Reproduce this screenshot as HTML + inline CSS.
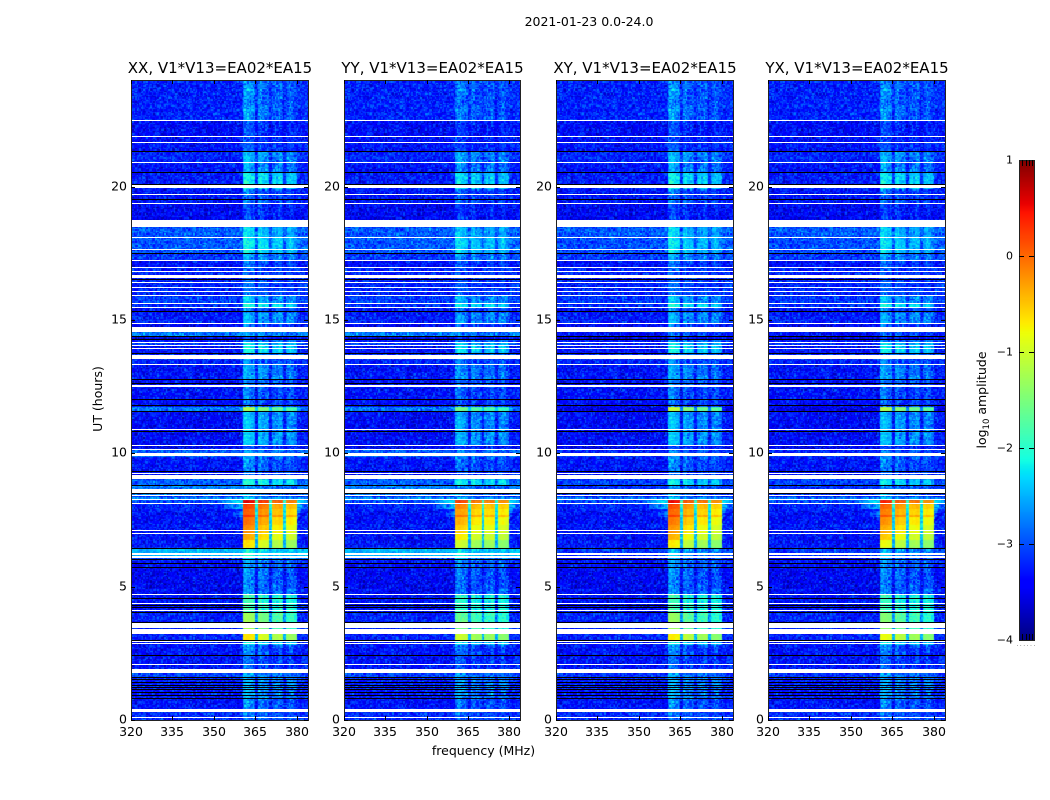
<!DOCTYPE html>
<html lang="en">
<head>
<meta charset="utf-8">
<title>2021-01-23 0.0-24.0</title>
<style>
html,body{margin:0;padding:0;background:#fff;}
#figure{position:relative;width:1050px;height:800px;overflow:hidden;background:#fff;}
canvas{position:absolute;display:block;}
#overlay{position:absolute;left:0;top:0;}
text{font-family:"DejaVu Sans","Liberation Sans",sans-serif;fill:#000;}
</style>
</head>
<body>
<div id="figure">
<canvas id="heat0"></canvas>
<canvas id="heat1"></canvas>
<canvas id="heat2"></canvas>
<canvas id="heat3"></canvas>
<canvas id="cbar"></canvas>
<svg id="overlay" width="1050" height="800" viewBox="0 0 1050 800" xmlns="http://www.w3.org/2000/svg">
<text x="589" y="26" font-size="12.5" text-anchor="middle">2021-01-23 0.0-24.0</text>
<text x="483.5" y="755" font-size="12.5" text-anchor="middle">frequency (MHz)</text>
<text transform="translate(102,399) rotate(-90)" font-size="12.5" text-anchor="middle">UT (hours)</text>
<text transform="translate(986,400) rotate(-90)" font-size="12.5" text-anchor="middle">log<tspan font-size="8.5" dy="3">10</tspan><tspan dy="-3"> amplitude</tspan></text>
<text x="1026.5" y="646" font-size="7" text-anchor="middle" style="fill:#888;letter-spacing:1.2px">......</text>
</svg>
</div>
<script>
// ---- chart data ----
const panelTitles = ["XX, V1*V13=EA02*EA15","YY, V1*V13=EA02*EA15","XY, V1*V13=EA02*EA15","YX, V1*V13=EA02*EA15"];
const xTicks = [320,335,350,365,380];
const yTicks = [0,5,10,15,20];
const cbarTicks = [-4,-3,-2,-1,0,1];

// time bands: upper edge in UT hours, top to bottom
const bandStartUT = [24,22.46,21.64,21.30,20.89,20.51,19.91,19.35,18.49,18.08,17.51,17.21,16.99,16.54,15.90,15.60,15.45,15.26,14.85,14.55,14.36,14.25,14.14,14.03,13.73,13.50,13.31,12.75,12.53,12.00,11.74,11.59,10.84,10.28,10.16,9.86,9.34,9.04,8.78,8.46,8.36,8.25,8.10,7.875,7.69,7.58,7.31,6.98,6.75,6.43,6.08,6.00,5.70,4.69,4.01,3.23,2.96,2.81,2.40,1.76,1.61,0.79,0.30];
// log10 amplitude of the noise floor (parallel hands XX/YY, cross hands XY/YX)
const bgParallel = [-3.25,-3.4,-3.35,-3.25,-3.35,-3.3,-3.35,-3.45,-2.95,-2.95,-3.15,-3.35,-3.25,-3.25,-3.1,-3.2,-3.35,-3.3,-3.45,-2.75,-3.55,-3.35,-3.05,-3.35,-3.15,-3.25,-3.35,-3.4,-3.35,-3.4,-2.8,-3.4,-3.4,-3.45,-2.95,-3.35,-3.35,-2.95,-2.75,-3.15,-2.7,-3.05,-3.25,-3.35,-3.35,-3.35,-3.35,-3.35,-3.35,-2.5,-3.05,-3.35,-3.45,-3.35,-3.25,-3.25,-3.35,-3.35,-3.35,-3.05,-3.3,-3.35,-3.2];
const bgCross = [-3.25,-3.4,-3.35,-3.25,-3.35,-3.3,-3.35,-3.45,-2.95,-3.0,-3.15,-3.35,-3.25,-3.25,-3.15,-3.2,-3.35,-3.3,-3.45,-3.35,-3.55,-3.35,-3.15,-3.35,-3.15,-3.25,-3.35,-3.4,-3.35,-3.4,-3.55,-3.4,-3.4,-3.45,-3.25,-3.35,-3.35,-3.1,-3.15,-3.25,-2.8,-3.05,-3.25,-3.35,-3.35,-3.35,-3.35,-3.35,-3.35,-3.15,-3.45,-3.35,-3.45,-3.35,-3.25,-3.25,-3.35,-3.35,-3.35,-3.15,-3.3,-3.35,-3.2];
// log10 amplitude inside the four bright spectral windows
const sigParallel = [-2.85,-3.15,-3.05,-2.65,-2.75,-2.3,-2.95,-3.2,-2.45,-2.35,-2.7,-3.0,-3.0,-3.0,-2.6,-2.2,-2.9,-2.65,-3.05,-2.7,-3.25,-2.8,-2.4,-2.3,-2.9,-2.9,-2.7,-2.9,-2.95,-3.05,-1.5,-2.6,-2.55,-3.15,-2.8,-2.85,-3.0,-2.2,-2.8,-2.9,-2.6,0.2,-0.15,-0.3,-0.05,-0.4,-0.55,-0.7,-1.0,-2.3,-2.6,-2.8,-2.85,-2.0,-1.6,-1.0,-2.3,-2.95,-3.05,-2.75,-2.7,-2.9,-2.9];
const sigCross = [-2.85,-3.15,-3.05,-2.65,-2.75,-2.3,-2.95,-3.2,-2.45,-2.4,-2.7,-3.0,-3.0,-3.0,-2.6,-2.2,-2.9,-2.65,-3.05,-2.9,-3.25,-2.8,-2.4,-2.3,-2.9,-2.9,-2.7,-2.9,-2.95,-3.05,-1.3,-2.6,-2.55,-3.15,-2.9,-2.85,-3.0,-2.3,-2.8,-2.9,-2.6,0.2,-0.15,-0.3,-0.05,-0.4,-0.55,-0.7,-1.0,-2.6,-2.8,-2.8,-2.85,-2.0,-1.6,-1.0,-2.3,-2.95,-3.05,-2.75,-2.7,-2.9,-2.9];
// skirt of leaked power beside the windows (0 = none)
const skirtLevel = [0,0,0,0,0,0,0,0,0,0,0,0,0,0,0,0,0,0,0,0,0,0,0,0,0,0,0,0,0,0,0,0,0,0,0,0,0,0,0,0,0,-2.1,-2.4,-2.9,-2.9,-3.1,0,0,0,0,0,0,0,0,0,0,0,0,0,0,0,0,0];

// spectral windows (MHz) and per-panel level offsets
const windowStartMHz = [360.7,365.9,371.1,376.0];
const windowEndMHz = [364.8,370.2,375.1,380.0];
const windowOffsetXX = [0.12,0.02,-0.08,-0.14];
const windowOffsetYY = [-0.02,-0.12,-0.14,-0.18];
const windowOffsetXY = [0.1,-0.05,-0.12,-0.18];
const windowOffsetYX = [0.05,-0.05,-0.12,-0.18];
// level ripple across each window, left to right
const windowRippleA = [0.02,0.1,0.14,0.1,0.04,-0.04,-0.02,-0.1];
const windowRippleB = [0.06,0.14,0.08,-0.06,-0.08,0,-0.04,-0.1];
const windowRippleC = [-0.08,0,0.06,-0.04,0.04,0.12,0.08,-0.08];
const windowRippleD = [-0.04,0.04,0.12,0.14,0.08,0.02,-0.06,-0.12];
const windowRipples = [windowRippleA,windowRippleB,windowRippleC,windowRippleD];

// flagged (white) time ranges, UT hours
const gapStartUT = [22.5,21.9,21.675,20.925,20.044,19.725,19.388,18.75,18.113,17.663,17.25,17.006,16.838,16.706,16.425,16.256,16.088,15.938,15.638,15.488,14.888,14.738,14.175,14.063,13.95,13.688,13.35,12.563,10.913,10.313,10.163,9.994,9.263,9.188,8.663,8.419,8.288,8.138,7.125,7.013,6.263,6.15,4.725,4.369,4.125,3.638,3.431,2.963,2.869,2.1,1.931,0.424,0.113];
const gapEndUT = [22.463,21.863,21.638,20.888,19.913,19.688,19.35,18.488,18.075,17.625,17.213,16.969,16.8,16.575,16.388,16.219,16.05,15.9,15.6,15.45,14.85,14.55,14.138,14.025,13.913,13.538,13.313,12.506,10.875,10.275,10.125,9.881,9.225,9.038,8.513,8.381,8.25,8.1,7.088,6.975,6.188,6.075,4.688,4.331,4.088,3.45,3.225,2.925,2.831,2.063,1.781,0.3,0.075];
// dropout (black) time ranges, UT hours
const darkStartUT = [21.338,20.55,20.1,19.538,17.531,16.556,15.319,14.4,14.269,13.781,12.769,12.638,12.019,11.794,11.606,10.856,9.356,8.813,8.494,6.45,6.038,5.888,5.738,4.575,4.313,4.238,4.05,3.675,3.0,2.438,1.613,1.519,1.425,1.331,1.238,1.144,1.05,0.938,0.825];
const darkEndUT = [21.3,20.513,20.025,19.5,17.494,16.519,15.263,14.363,14.231,13.744,12.731,12.6,11.981,11.749,11.576,10.826,9.326,8.775,8.456,6.413,6,5.858,5.7,4.541,4.283,4.208,4.013,3.638,2.963,2.4,1.575,1.489,1.395,1.301,1.208,1.114,1.02,0.908,0.788];

// per-cell amplitude scatter, read as texture of the noise floor
const speckle = [0.3,-0.7,0.9,-0.2,0.5,-0.9,0.1,0.7,-0.4,-0.8,0.6,0.2,-0.5,1,-0.1,-0.6,0.4,0.8,-0.3,-0.95,0.15,0.65,-0.75,0.35,-0.15,0.85,-0.55,0.05,-0.85,0.55,0.25,-0.35,0.95,-0.65,-0.05,0.45,-1,0.75,0.2,-0.45,0.6,-0.25,-0.7,0.9,0.1,-0.9,0.35,-0.1,0.7,-0.6,0.5,-0.3,0.8,-0.8,0,0.4,-0.5,0.95,-0.2,-0.75,0.3,0.65,-0.95,0.15,-0.4,0.85,-0.15,0.55,-0.65,0.25,0.75,-0.85,0.05,-0.35,0.45,1,-0.55,-0.05,0.6,-1,0.2,0.9,-0.7,0.35,-0.25,0.7,-0.45,0.1,0.5,-0.9,0.8,-0.1,-0.6,0.4,-0.3,0.95,-0.8,0.15,0.65,-0.5,0.25];

const panelBgArrays = [bgParallel,bgParallel,bgCross,bgCross];
const panelSigArrays = [sigParallel,sigParallel,sigCross,sigCross];
const panelOffsets = [windowOffsetXX,windowOffsetYY,windowOffsetXY,windowOffsetYX];
const panelNames = ["xx","yy","xy","yx"];

// ---- layout ----
const panelLeft = [131,344,556,768];
const panelRight = [308,520,733,945];
const plotTop = 80, plotBottom = 720;
const freqMin = 320, freqMax = 384, utMin = 0, utMax = 24;
const cbarLeft = 1019, cbarRight = 1034, cbarTop = 160, cbarBottom = 640;
const vMin = -4, vMax = 1;
const nChannels = 128, nRows = 480;

function xScale(p, mhz){ return panelLeft[p] + (mhz - freqMin) / (freqMax - freqMin) * (panelRight[p] - panelLeft[p]); }
function yScale(ut){ return plotBottom - (ut - utMin) / (utMax - utMin) * (plotBottom - plotTop); }
function cbarScale(v){ return cbarBottom - (v - vMin) / (vMax - vMin) * (cbarBottom - cbarTop); }

function seg(x, x0, y0, x1, y1){ return y0 + (y1 - y0) * Math.max(0, Math.min(1, (x - x0) / (x1 - x0))); }
function jet(v){
  const t = Math.max(0, Math.min(1, (v - vMin) / (vMax - vMin)));
  const r = t < 0.35 ? 0 : t < 0.66 ? seg(t,0.35,0,0.66,1) : t < 0.89 ? 1 : seg(t,0.89,1,1,0.5);
  const g = t < 0.125 ? 0 : t < 0.375 ? seg(t,0.125,0,0.375,1) : t < 0.64 ? 1 : seg(t,0.64,1,0.91,0);
  const b = t < 0.11 ? seg(t,0,0.5,0.11,1) : t < 0.34 ? 1 : seg(t,0.34,1,0.65,0);
  return 'rgb(' + Math.round(r*255) + ',' + Math.round(g*255) + ',' + Math.round(b*255) + ')';
}

function bandIndex(ut){
  let idx = 0;
  for (let i = 0; i < bandStartUT.length; i++) { if (bandStartUT[i] >= ut) idx = i; else break; }
  return idx;
}
function windowIndex(mhz){
  for (let w = 0; w < windowStartMHz.length; w++) { if (mhz >= windowStartMHz[w] && mhz <= windowEndMHz[w]) return w; }
  return -1;
}
function noiseAt(c, r){
  const a = speckle[(c*37 + r*61 + (c*r) % 23) % speckle.length];
  const b = speckle[(c*c*3 + r*r*7 + c*r) % speckle.length];
  return (a + b) / 1.3;
}
function cellValue(p, mhz, ut, c, r){
  const i = bandIndex(ut);
  const bg = panelBgArrays[p][i];
  const sig = panelSigArrays[p][i];
  const skirt = skirtLevel[i];
  const w = windowIndex(mhz);
  const first = windowStartMHz[0], last = windowEndMHz[windowEndMHz.length - 1];
  const bright = sig > -1.7;
  let v;
  if (w >= 0) {
    const pos = (mhz - windowStartMHz[w]) / (windowEndMHz[w] - windowStartMHz[w]);
    const rip = windowRipples[w][Math.min(7, Math.floor(pos * 8))];
    v = sig + panelOffsets[p][w] * (bright ? 2.5 : 1) + rip * (bright ? 0.5 : 1);
  } else if (mhz > first && mhz < last) {
    v = bg + (sig - bg) * (bright ? 0.35 : 0.12);
  } else {
    v = bg;
    if (mhz >= last) v = bg + 0.08;
    if (skirt !== 0) {
      const dist = mhz < first ? first - mhz : (mhz - last) * 2;
      v = Math.max(v, skirt - dist * 0.09);
    }
  }
  const amp = v > -1.6 ? 0.05 : v > -2.6 ? 0.22 : 0.36;
  return v + noiseAt(c, r) * amp;
}

function drawHeatmap(p){
  const cv = document.getElementById('heat' + p);
  const w = panelRight[p] - panelLeft[p], h = plotBottom - plotTop;
  cv.width = w; cv.height = h;
  cv.style.left = panelLeft[p] + 'px';
  cv.style.top = plotTop + 'px';
  const ctx = cv.getContext('2d');
  for (let r = 0; r < nRows; r++) {
    const ut = utMax - (r + 0.5) * (utMax - utMin) / nRows;
    const y0 = Math.round(r * h / nRows), y1 = Math.round((r + 1) * h / nRows);
    for (let c = 0; c < nChannels; c++) {
      const mhz = freqMin + (c + 0.5) * (freqMax - freqMin) / nChannels;
      const x0 = Math.round(c * w / nChannels), x1 = Math.round((c + 1) * w / nChannels);
      ctx.fillStyle = jet(cellValue(p, mhz, ut, c, r));
      ctx.fillRect(x0, y0, x1 - x0, y1 - y0);
    }
  }
}

function drawColorbar(){
  const cv = document.getElementById('cbar');
  const w = cbarRight - cbarLeft, h = cbarBottom - cbarTop;
  cv.width = w; cv.height = h;
  cv.style.left = cbarLeft + 'px';
  cv.style.top = cbarTop + 'px';
  const ctx = cv.getContext('2d');
  for (let y = 0; y < h; y++) {
    ctx.fillStyle = jet(vMax - (y + 0.5) / h * (vMax - vMin));
    ctx.fillRect(0, y, w, 1);
  }
}

const SVGNS = 'http://www.w3.org/2000/svg';
const overlay = document.getElementById('overlay');
function mk(tag, attrs){
  const el = document.createElementNS(SVGNS, tag);
  for (const k in attrs) el.setAttribute(k, attrs[k]);
  overlay.appendChild(el);
  return el;
}

function drawPanelOverlay(p){
  const L = panelLeft[p], R = panelRight[p];
  for (let i = 0; i < darkStartUT.length; i++) {
    const y0 = yScale(darkStartUT[i]), y1 = yScale(darkEndUT[i]);
    const el = mk('rect', {x: L, y: Math.round(y0), width: R - L, height: Math.max(1, Math.round(y1 - y0)), fill: '#000'});
    
    
  }
  for (let i = 0; i < gapStartUT.length; i++) {
    const y0 = yScale(gapStartUT[i]), y1 = yScale(gapEndUT[i]);
    const el = mk('rect', {x: L + 1, y: Math.round(y0), width: R - L - 1, height: Math.max(1, Math.round(y1 - y0)), fill: '#fff'});
    
    
  }
  const frame = mk('rect', {x: L + 0.5, y: plotTop + 0.5, width: R - L, height: plotBottom - plotTop, fill: 'none', stroke: '#222', 'stroke-width': 1});
  
  

  const title = mk('text', {x: (L + R) / 2 + 0.5, y: 73, 'font-size': 15, 'text-anchor': 'middle'});
  title.textContent = panelTitles[p];
  
  

  xTicks.forEach(function(t){
    const x = Math.round(xScale(p, t)) + 0.5;
    const a = mk('line', {x1: x, x2: x, y1: plotBottom, y2: plotBottom - 4, stroke: '#000'});
    
    
    const b = mk('line', {x1: x, x2: x, y1: plotTop, y2: plotTop + 4, stroke: '#000'});
    
    
    const lab = mk('text', {x: x - 0.5, y: 736, 'font-size': 12.5, 'text-anchor': 'middle'});
    lab.textContent = String(t);
    
    
  });
  yTicks.forEach(function(t){
    const y = Math.round(yScale(t)) + 0.5;
    const a = mk('line', {x1: L, x2: L + 4, y1: y, y2: y, stroke: '#000'});
    
    
    const b = mk('line', {x1: R, x2: R - 4, y1: y, y2: y, stroke: '#000'});
    
    
    const lab = mk('text', {x: L - 4, y: y + 3, 'font-size': 12.5, 'text-anchor': 'end'});
    lab.textContent = String(t);
    
    
  });
}

function drawColorbarOverlay(){
  const frame = mk('rect', {x: cbarLeft + 0.5, y: cbarTop + 0.5, width: cbarRight - cbarLeft, height: cbarBottom - cbarTop, fill: 'none', stroke: '#222'});
  
  
  cbarTicks.forEach(function(t){
    const y = Math.round(cbarScale(t)) + 0.5;
    if (t !== vMin && t !== vMax) {
      const a = mk('line', {x1: cbarLeft, x2: cbarLeft + 5, y1: y, y2: y, stroke: '#000'});
      
      
      const b = mk('line', {x1: cbarRight, x2: cbarRight - 5, y1: y, y2: y, stroke: '#000'});
      
      
    }
    const lab = mk('text', {x: 1013, y: y + 3, 'font-size': 11, 'text-anchor': 'end'});
    lab.textContent = t < 0 ? '\u2212' + Math.abs(t) : String(t);
    
    
  });
  [0.22,0.44,0.67,0.89].forEach(function(f){
    const x = Math.round(cbarLeft + f * (cbarRight - cbarLeft)) + 0.5;
    const a = mk('line', {x1: x, x2: x, y1: cbarTop, y2: cbarTop + 6, stroke: '#000'});
    
    
    const b = mk('line', {x1: x, x2: x, y1: cbarBottom, y2: cbarBottom - 6, stroke: '#000'});
    
    
  });
}

for (let p = 0; p < 4; p++) { drawHeatmap(p); drawPanelOverlay(p); }
drawColorbar();
drawColorbarOverlay();
</script>
</body>
</html>
